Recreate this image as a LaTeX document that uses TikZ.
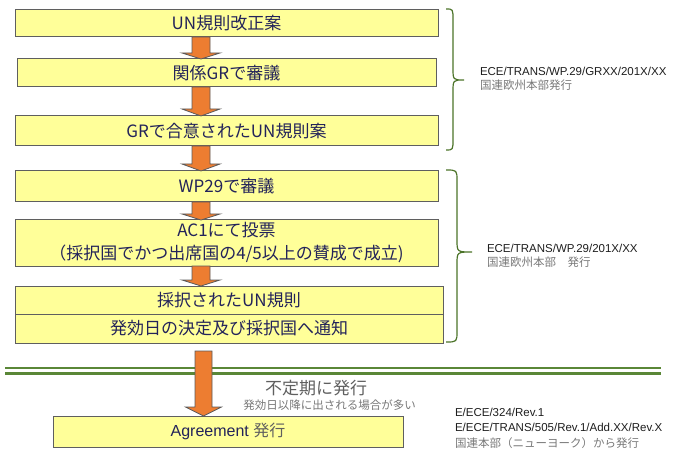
\documentclass[tikz,border=0pt]{standalone}
\usepackage{fontspec}
\setmainfont{Liberation Sans}
\newfontfamily\jp{Noto Sans CJK JP}
\usetikzlibrary{positioning,calc}
\definecolor{boxfill}{RGB}{255,255,153}
\definecolor{boxline}{RGB}{95,95,95}
\definecolor{boxtext}{RGB}{35,35,90}
\definecolor{arroworange}{RGB}{237,125,49}
\definecolor{arrowline}{RGB}{90,90,90}
\definecolor{rulegreen}{RGB}{90,135,55}
\definecolor{bracegreen}{RGB}{75,115,40}
\definecolor{notedark}{RGB}{30,30,30}
\definecolor{notegray}{RGB}{120,120,120}
\definecolor{subgray}{RGB}{95,95,95}

% block arrow between two boxes: x, from, to, half shaft, half head, head length
\newcommand{\flowarrow}[6]{%
  \path (#1,0 |- #2) coordinate (ftop) (#1,0 |- #3) coordinate (fbot);
  \draw[blockarrow] ($(ftop)+(-#4,0)$) -- ($(ftop)+(#4,0)$) -- ($(fbot)+(#4,-#6)$)
    -- ($(fbot)+(#5,-#6)$) -- (fbot) -- ($(fbot)+(-#5,-#6)$) -- ($(fbot)+(-#4,-#6)$) -- cycle;
}
% right brace: top y, tip y, bottom y, end x, body x, tip x
\newcommand{\sidebrace}[6]{%
  \draw[bracecurve] (#4,#1) .. controls (#5,#1) .. (#5,#1+11) -- (#5,#2-12)
    .. controls (#5,#2) .. (#6,#2) .. controls (#5,#2) .. (#5,#2+12)
    -- (#5,#3-11) .. controls (#5,#3) .. (#4,#3);
}

\begin{document}
\begin{tikzpicture}
[x=1pt,y=-1pt,
 every node/.style={inner sep=0pt,outer sep=0pt},
 box/.style={draw=boxline,fill=boxfill,line width=1pt,minimum width=423pt,text=boxtext,
   font=\jp\fontsize{17}{23}\selectfont,align=center},
 blockarrow/.style={draw=arrowline,fill=arroworange,line width=0.8pt},
 bracecurve/.style={draw=bracegreen,line width=1.2pt},
 greenrule/.style={draw=rulegreen,line width=2.2pt},
 note/.style={font=\fontsize{11.5}{14}\selectfont,align=left,text=notedark}]
\useasboundingbox (0,0) rectangle (682,470);

\node[box,minimum height=27pt]                      (b1)  at (226.5,23.5)       {UN規則改正案};
\node[box,minimum height=28pt,minimum width=419pt]  (b2)  [below=22pt of b1]    {関係GRで審議};
\node[box,minimum height=30pt]                      (b3)  [below=29pt of b2]    {GRで合意されたUN規則案};
\node[box,minimum height=31pt]                      (b4)  [below=25pt of b3]    {WP29で審議};
\node[box,minimum height=46pt]                      (b5)  [below=18pt of b4]    {AC1にて投票\\（採択国でかつ出席国の4/5以上の賛成で成立)};
\node[box,minimum height=28pt,minimum width=428pt]  (b6a) [below=20pt of b5,xshift=2.5pt] {採択されたUN規則};
\node[box,minimum height=29pt,minimum width=428pt]  (b6b) [below=0pt of b6a]    {発効日の決定及び採択国へ通知};
\node[box,minimum height=31pt,minimum width=350pt,font=\fontsize{16}{18}\selectfont]
                                                    (b7)  [below=73pt of b6b,xshift=-1pt] {Agreement {\jp\color{subgray}発行}};

\flowarrow{201}{b1.south}{b2.north}{9}{19}{6}
\flowarrow{201}{b2.south}{b3.north}{9}{19}{7}
\flowarrow{201}{b3.south}{b4.north}{9}{19}{7}
\flowarrow{201}{b4.south}{b5.north}{9}{19}{6}
\flowarrow{201}{b5.south}{b6a.north}{9}{19}{6}

\sidebrace{9}{80}{150}{446}{453}{464}
\sidebrace{170}{252}{342}{446}{457}{472}

\node[note,anchor=west] (lblgr) at (480,79)  {ECE/TRANS/WP.29/GRXX/201X/XX\\{\jp\color{notegray}国連欧州本部発行}};
\node[note,anchor=west] (lblwp) at (487,256) {ECE/TRANS/WP.29/201X/XX\\{\jp\color{notegray}国連欧州本部　発行}};

\draw[greenrule] (5,368) -- (661,368);
\draw[greenrule] (5,373.5) -- (661,373.5);

\coordinate (agtop) at ($(b6b.south)+(0,8)$);
\flowarrow{203.5}{agtop}{b7.north}{8.5}{18}{9}

\node[font=\jp\fontsize{17}{20}\selectfont,text=subgray]   (irreg) at (316,388)   {不定期に発行};
\node[font=\jp\fontsize{11.5}{14}\selectfont,text=notegray] (after) at (329.5,405) {発効日以降に出される場合が多い};
\node[note,anchor=north west,font=\fontsize{11.5}{15.5}\selectfont] (lblun) at (455,408)
  {E/ECE/324/Rev.1\\E/ECE/TRANS/505/Rev.1/Add.XX/Rev.X\\{\jp\color{notegray}国連本部（ニューヨーク）から発行}};
\end{tikzpicture}
\end{document}
